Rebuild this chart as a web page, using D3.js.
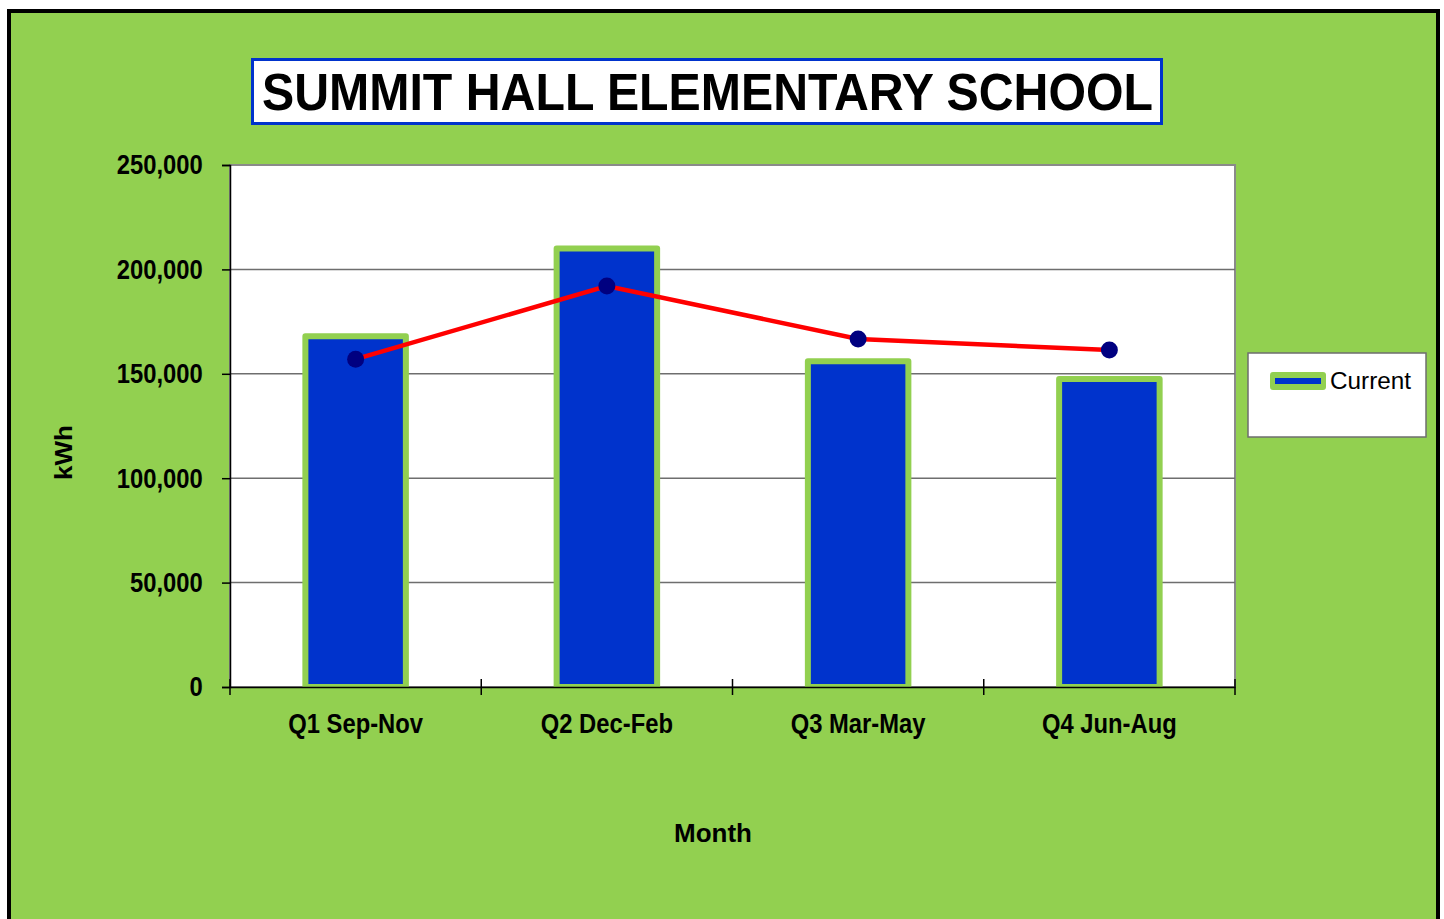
<!DOCTYPE html>
<html>
<head>
<meta charset="utf-8">
<script src="https://cdn.jsdelivr.net/npm/d3@7"></script>
<style>
  body { margin: 0; background: #fff; }
  svg { display: block; }
</style>
</head>
<body>
<div id="chart"></div>
<script>
// data
const quarters = ["Q1 Sep-Nov", "Q2 Dec-Feb", "Q3 Mar-May", "Q4 Jun-Aug"];
const currentKwh = [168000, 210000, 156000, 147500];
const previousKwh = [157000, 192000, 166700, 161400];
const yTicks = [0, 50000, 100000, 150000, 200000, 250000];

const W = 1444, H = 919;
const plot = { left: 230, right: 1235, top: 165, bottom: 687 };
const sans = "'Liberation Sans', Arial, sans-serif";
const squeeze = 0.85; // the tick labels are a condensed face

const svg = d3.select('#chart')
    .append('svg')
    .attr('width', W)
    .attr('height', H);

// background + outer border
svg.append('rect')
    .attr('x', 9).attr('y', 11)
    .attr('width', 1429).attr('height', H + 20)
    .attr('fill', '#92D050')
    .attr('stroke', '#000')
    .attr('stroke-width', 4);

// scales
const x = d3.scaleBand()
    .domain(quarters)
    .range([plot.left, plot.right])
    .paddingInner(0).paddingOuter(0);

const y = d3.scaleLinear()
    .domain([0, 250000])
    .range([plot.bottom, plot.top]);

// plot area
svg.append('rect')
    .attr('x', plot.left).attr('y', plot.top)
    .attr('width', plot.right - plot.left)
    .attr('height', plot.bottom - plot.top)
    .attr('fill', '#fff')
    .attr('stroke', '#8a8a8a')
    .attr('stroke-width', 2);

// gridlines
svg.append('g')
    .selectAll('line')
    .data(yTicks.slice(1, -1))
    .join('line')
    .attr('x1', plot.left).attr('x2', plot.right)
    .attr('y1', d => y(d)).attr('y2', d => y(d))
    .attr('stroke', '#6e6e6e')
    .attr('stroke-width', 1.5);

// bars
const barW = x.bandwidth() * 0.4;
svg.append('g')
    .selectAll('rect')
    .data(currentKwh)
    .join('rect')
    .attr('x', (d, i) => x(quarters[i]) + (x.bandwidth() - barW) / 2)
    .attr('y', d => y(d))
    .attr('width', barW)
    .attr('height', d => y(0) - y(d))
    .attr('fill', '#0033CC')
    .attr('stroke', '#92D050')
    .attr('stroke-width', 6)
    .attr('stroke-linejoin', 'round');

// y axis
const yAxis = svg.append('g')
    .attr('transform', `translate(${plot.left},0)`)
    .call(d3.axisLeft(y).tickValues(yTicks).tickSize(8).tickPadding(24)
        .tickFormat(d3.format(',')));
yAxis.select('.domain').attr('stroke', '#000').attr('stroke-width', 1.5);
yAxis.selectAll('.tick line').attr('stroke', '#000').attr('stroke-width', 1.5);
yAxis.selectAll('text')
    .attr('fill', '#000')
    .attr('transform', `scale(${squeeze},1)`)
    .style('font-family', sans)
    .style('font-weight', 'bold')
    .style('font-size', '28px');

// x axis
const xAxis = svg.append('g')
    .attr('transform', `translate(0,${plot.bottom})`)
    .call(d3.axisBottom(x).tickSize(0).tickPadding(26));
xAxis.select('.domain').attr('stroke', '#000').attr('stroke-width', 1.5);
xAxis.selectAll('text')
    .attr('fill', '#000')
    .attr('transform', `scale(${squeeze},1)`)
    .style('font-family', sans)
    .style('font-weight', 'bold')
    .style('font-size', '28px');

// crossing ticks at category boundaries
const bounds = quarters.map(q => x(q)).concat([plot.right]);
svg.append('g')
    .selectAll('line')
    .data(bounds)
    .join('line')
    .attr('x1', d => d).attr('x2', d => d)
    .attr('y1', plot.bottom - 8).attr('y2', plot.bottom + 8)
    .attr('stroke', '#000')
    .attr('stroke-width', 1.5);

// line series
const line = d3.line()
    .x((d, i) => x(quarters[i]) + x.bandwidth() / 2)
    .y(d => y(d));

svg.append('path')
    .datum(previousKwh)
    .attr('fill', 'none')
    .attr('stroke', '#FF0000')
    .attr('stroke-width', 4.5)
    .attr('d', line);

svg.append('g')
    .selectAll('circle')
    .data(previousKwh)
    .join('circle')
    .attr('cx', (d, i) => x(quarters[i]) + x.bandwidth() / 2)
    .attr('cy', d => y(d))
    .attr('r', 8.5)
    .attr('fill', '#000080');

// title
svg.append('rect')
    .attr('x', 252.5).attr('y', 59.5)
    .attr('width', 909).attr('height', 64)
    .attr('fill', '#fff')
    .attr('stroke', '#0033CC')
    .attr('stroke-width', 3);

svg.append('text')
    .attr('x', 262).attr('y', 110)
    .attr('textLength', 891)
    .attr('lengthAdjust', 'spacingAndGlyphs')
    .style('font-family', sans)
    .style('font-weight', 'bold')
    .style('font-size', '51px')
    .text('SUMMIT HALL ELEMENTARY SCHOOL');

// axis titles
svg.append('text')
    .attr('x', 674).attr('y', 842)
    .attr('textLength', 78)
    .attr('lengthAdjust', 'spacingAndGlyphs')
    .style('font-family', sans)
    .style('font-weight', 'bold')
    .style('font-size', '26px')
    .text('Month');

svg.append('text')
    .attr('transform', 'translate(72,480) rotate(-90)')
    .attr('textLength', 55)
    .attr('lengthAdjust', 'spacingAndGlyphs')
    .style('font-family', sans)
    .style('font-weight', 'bold')
    .style('font-size', '24px')
    .text('kWh');

// legend
const legend = svg.append('g').attr('transform', 'translate(1248,353)');
legend.append('rect')
    .attr('width', 178).attr('height', 84)
    .attr('fill', '#fff')
    .attr('stroke', '#6e6e6e')
    .attr('stroke-width', 1.5);
legend.append('rect')
    .attr('x', 22).attr('y', 19)
    .attr('width', 56).attr('height', 18)
    .attr('rx', 3)
    .attr('fill', '#92D050');
legend.append('line')
    .attr('x1', 27).attr('x2', 73)
    .attr('y1', 28).attr('y2', 28)
    .attr('stroke', '#0033CC')
    .attr('stroke-width', 6);
legend.append('text')
    .attr('x', 82).attr('y', 36)
    .attr('textLength', 81)
    .attr('lengthAdjust', 'spacingAndGlyphs')
    .style('font-family', sans)
    .style('font-size', '24px')
    .text('Current');
</script>
</body>
</html>
